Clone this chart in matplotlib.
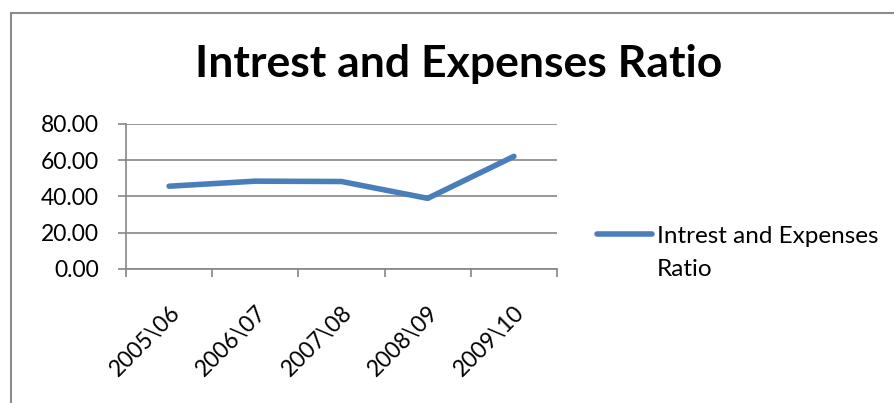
import numpy as np
import matplotlib
matplotlib.use("Agg")
import matplotlib.pyplot as plt
from matplotlib.patches import Rectangle

# ---------------------------------------------------------------------
# Data
# ---------------------------------------------------------------------
years = ["2005\\06", "2006\\07", "2007\\08", "2008\\09", "2009\\10"]
ratio = [45.6, 48.4, 48.2, 38.9, 62.1]
y_ticks = [0, 20, 40, 60, 80]

# legend label wraps onto a second line in the reference
series_name = "Intrest and Expenses"
series_name_wrap = "Ratio"
title = "Intrest and Expenses Ratio"

line_color = "#4A7EBB"
grid_color = "#868686"

plt.rcParams["font.family"] = ["Lato", "DejaVu Sans"]

W, H = 894, 403
fig = plt.figure(figsize=(W / 100, H / 100), dpi=100)
ax = fig.add_axes([126 / W, 1 - 268.7 / H, (557 - 126) / W, (268.7 - 124) / H])

x = np.arange(len(years))
ax.plot(x, ratio, color=line_color, linewidth=4.0, solid_capstyle="round",
        solid_joinstyle="round", label=series_name)

ax.set_xlim(-0.5, len(years) - 0.5)
ax.set_ylim(0, 80)
ax.set_yticks(y_ticks)
ax.set_yticklabels([f"{v:.2f}" for v in y_ticks], fontsize=16.5)
ax.yaxis.grid(True, color=grid_color, linewidth=1.2)
ax.set_axisbelow(True)

# category boundaries get the tick marks, labels sit in the middle
ax.set_xticks(np.arange(-0.5, len(years), 1.0))
ax.set_xticklabels([])
ax.set_xticks(x, minor=True)
ax.set_xticklabels(years, minor=True, rotation=45, ha="right", va="top",
                   rotation_mode="anchor", fontsize=16.5)
ax.tick_params(axis="x", which="major", length=5.8, color=grid_color, width=1.2)
ax.tick_params(axis="x", which="minor", length=0, pad=24)
ax.tick_params(axis="y", length=5.8, color=grid_color, width=1.2, pad=13.5)

for side in ["top", "right"]:
    ax.spines[side].set_visible(False)
for side in ["left", "bottom"]:
    ax.spines[side].set_color(grid_color)
    ax.spines[side].set_linewidth(1.2)

fig.text(458.5 / W, 1 - 76.7 / H, title, ha="center", va="baseline",
         fontsize=32, fontweight="bold")

leg = fig.legend(loc="center left", bbox_to_anchor=(597 / W, 1 - 236 / H),
                 frameon=False, fontsize=17.5, handlelength=2.26,
                 handletextpad=0.2, borderpad=0, borderaxespad=0)
fig.text(657 / W, 1 - 276 / H, series_name_wrap, ha="left", va="baseline",
         fontsize=17.5)

# chart border (right and bottom edges fall outside the image)
top = 1 - 12.7 / H
fig.patches.append(Rectangle((11 / W, -0.2), 1.5, top + 0.2,
                             transform=fig.transFigure, fill=False,
                             edgecolor="#8c8c8c", linewidth=1.5))

fig.savefig("out.png", dpi=100)
